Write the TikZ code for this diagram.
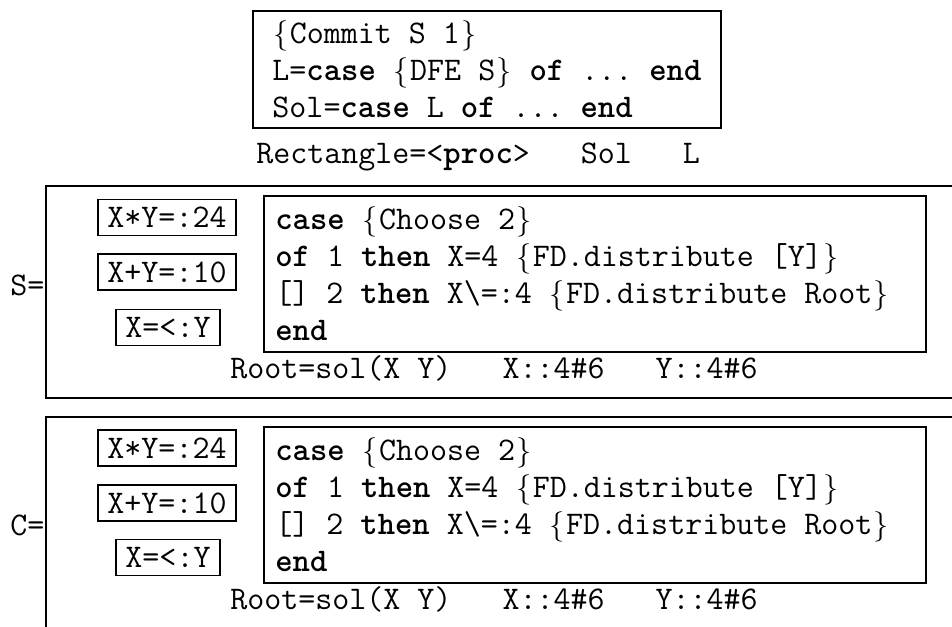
\documentclass[tikz,border=0pt]{standalone}
\usepackage{fontspec}
\usetikzlibrary{positioning}
\newcommand{\codefont}{\ttfamily\fontsize{18.8pt}{21pt}\selectfont\frenchspacing}
\newcommand{\opb}{\makebox[0.525em]{$\{$}}
\newcommand{\clb}{\makebox[0.525em]{$\}$}}

\begin{document}
\begin{tikzpicture}[x=0.02cm, y=-0.02cm,
    frame/.style={draw, line width=1.1pt},
    codebox/.style={frame, align=left, anchor=north west, inner sep=0pt, font=\codefont},
    codeframe/.style={frame, anchor=north west, minimum width=13.24cm, minimum height=3.12cm},
    codetext/.style={align=left, anchor=west, inner sep=0pt, font=\codefont},
    cbox/.style={frame, inner xsep=0.19cm, inner ysep=0pt, minimum height=0.72cm, font=\codefont},
    txt/.style={inner sep=0pt, anchor=base west, font=\codefont},
]
    \useasboundingbox (0,0) rectangle (952,626);
    \clip (0,0) rectangle (952,626);

    % === commit ===
    \node[codebox, minimum width=9.36cm, minimum height=2.34cm] (commit) at (252,10)
        {\opb Commit S 1\clb\\
         L=\textbf{case} \opb DFE S\clb{} \textbf{of} ... \textbf{end}\\
         Sol=\textbf{case} L \textbf{of} ... \textbf{end}};
    \node[txt] (procline) at (256,163) {Rectangle=<\textbf{proc}>~~~Sol~~~L};

    % === S ===
    \draw[frame] (46,186) rectangle (1000,398);
    \node[txt] (slabel) at (10,295) {S=};
    \node[cbox] (sprod) at (167,217.5) {X*Y=:24};
    \node[cbox] (ssum) at (167,272) {X+Y=:10};
    \node[cbox] (sle) at (168,327.5) {X=<:Y};
    \node[codeframe] (scase) at (263,195) {};
    \node[codetext, right=0.24cm of scase.west] (scasetext)
        {\textbf{case} \opb Choose 2\clb\\
         \textbf{of} 1 \textbf{then} X=4 \opb FD.distribute [Y]\clb\\
         {[]} 2 \textbf{then} X\textbackslash=:4 \opb FD.distribute Root\clb\\
         \textbf{end}};
    \node[txt] (sroot) at (230,378) {Root=sol(X Y)~~~X::4\#6~~~Y::4\#6};

    % === C ===
    \draw[frame] (46,417) rectangle (1000,700);
    \node[txt] (clabel) at (10,535) {C=};
    \node[cbox] (cprod) at (167,448) {X*Y=:24};
    \node[cbox] (csum) at (167,503) {X+Y=:10};
    \node[cbox] (cle) at (168,557.5) {X=<:Y};
    \node[codeframe] (ccase) at (263,426) {};
    \node[codetext, right=0.24cm of ccase.west] (ccasetext)
        {\textbf{case} \opb Choose 2\clb\\
         \textbf{of} 1 \textbf{then} X=4 \opb FD.distribute [Y]\clb\\
         {[]} 2 \textbf{then} X\textbackslash=:4 \opb FD.distribute Root\clb\\
         \textbf{end}};
    \node[txt] (croot) at (230,609) {Root=sol(X Y)~~~X::4\#6~~~Y::4\#6};
\end{tikzpicture}
\end{document}
